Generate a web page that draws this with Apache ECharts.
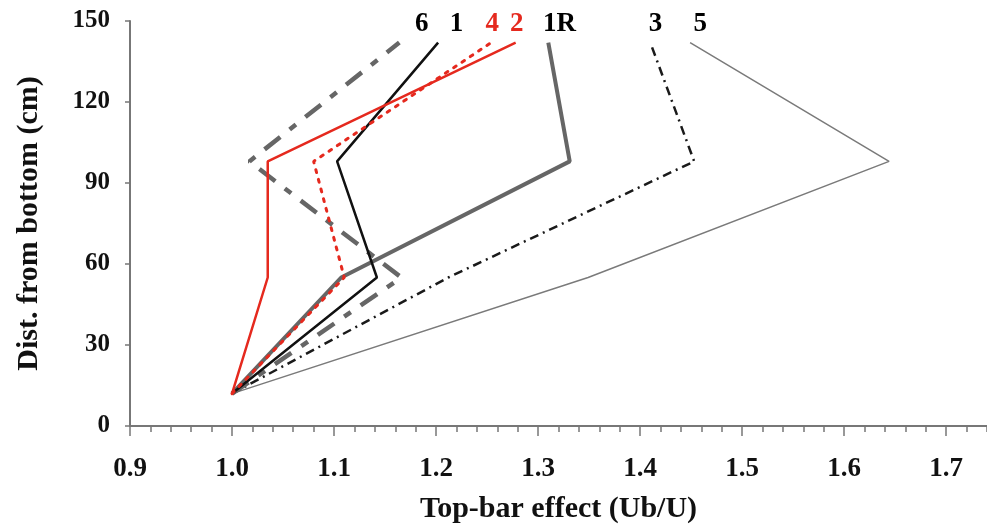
<!DOCTYPE html>
<html>
<head>
<meta charset="utf-8">
<script src="https://cdn.jsdelivr.net/npm/echarts@6/dist/echarts.min.js"></script>
<style>
  html, body { margin: 0; padding: 0; background: #fff; }
  #chart { width: 987px; height: 529px; }
</style>
</head>
<body>
<div id="chart"></div>
<script>
// heights (cm) where each profile is measured
const heights = [12, 55, 98, 142]

// top-bar effect (Ub/U) for each run, bottom to top
const run6 = [1.0, 1.166, 1.017, 1.164]
const run1 = [1.0, 1.142, 1.103, 1.202]
const run2 = [1.0, 1.035, 1.035, 1.278]
const run4 = [1.0, 1.110, 1.080, 1.254]
const run1R = [1.0, 1.107, 1.331, 1.310]
const run3 = [1.0, 1.212, 1.453, 1.410]
const run5 = [1.0, 1.349, 1.644, 1.449]

// run labels printed above the curves
const labelNames = ['6', '1', '4', '2', '1R', '3', '5']
const labelX = [1.186, 1.220, 1.255, 1.279, 1.321, 1.415, 1.459]
const labelY = 149

const xTicks = [0.9, 1.0, 1.1, 1.2, 1.3, 1.4, 1.5, 1.6, 1.7]
const yTicks = [0, 30, 60, 90, 120, 150]

const serif = "'Liberation Serif', 'DejaVu Serif', serif"
const red = '#e5291e'

const pairs = xs => xs.map((x, i) => [x, heights[i]])

const lineSeries = (name, xs, style) => ({
  name,
  type: 'line',
  data: pairs(xs),
  symbol: 'none',
  xAxisIndex: 0,
  yAxisIndex: 0,
  lineStyle: style,
  z: 3
})

const chart = echarts.init(document.getElementById('chart'))

const option = {
  animation: false,
  backgroundColor: '#fff',
  grid: { left: 130, width: 865, top: 21, bottom: 103 },
  xAxis: [
    {
      type: 'value',
      min: 0.9,
      max: 1.74,
      interval: 0.1,
      name: 'Top-bar effect (Ub/U)',
      nameLocation: 'middle',
      nameGap: 68,
      nameTextStyle: { fontFamily: serif, fontWeight: 'bold', fontSize: 30, color: '#111' },
      axisLine: { show: true, onZero: false, lineStyle: { color: '#777', width: 2 } },
      axisTick: { show: true, inside: false, length: 10, customValues: xTicks, lineStyle: { color: '#777', width: 1.5 } },
      axisLabel: {
        customValues: xTicks,
        margin: 30,
        fontFamily: serif,
        fontWeight: 'bold',
        fontSize: 27,
        color: '#111',
        formatter: v => v.toFixed(1)
      },
      splitLine: { show: false }
    },
    {
      type: 'value',
      min: 0.9,
      max: 1.74,
      interval: 0.02,
      axisLine: { show: false },
      axisTick: { show: true, inside: true, length: 6, lineStyle: { color: '#777', width: 1.5 } },
      axisLabel: { show: false },
      splitLine: { show: false }
    }
  ],
  yAxis: {
    type: 'value',
    min: 0,
    max: 150,
    interval: 30,
    name: 'Dist. from bottom (cm)',
    nameLocation: 'middle',
    nameGap: 86,
    nameTextStyle: { fontFamily: serif, fontWeight: 'bold', fontSize: 30, color: '#111' },
    axisLine: { show: true, lineStyle: { color: '#777', width: 2 } },
    axisTick: { show: true, length: 5, lineStyle: { color: '#777', width: 1.5 } },
    axisLabel: {
      customValues: yTicks,
      margin: 20,
      fontFamily: serif,
      fontWeight: 'bold',
      fontSize: 25,
      color: '#111'
    },
    splitLine: { show: false }
  },
  series: [
    lineSeries('5', run5, { color: '#7a7a7a', width: 1.5 }),
    lineSeries('3', run3, { color: '#1a1a1a', width: 2.5, type: [9, 5, 2, 5] }),
    lineSeries('1R', run1R, { color: '#666', width: 4 }),
    lineSeries('6', run6, { color: '#666', width: 4.5, type: [20, 12, 8, 12] }),
    lineSeries('1', run1, { color: '#111', width: 2.5 }),
    lineSeries('4', run4, { color: red, width: 3, type: [3, 7], cap: 'round' }),
    lineSeries('2', run2, { color: red, width: 2.5 }),
    {
      type: 'scatter',
      symbolSize: 0,
      itemStyle: { opacity: 1 },
      data: labelNames.map((n, i) => ({
        value: [labelX[i], labelY],
        name: n,
        label: { color: n === '4' || n === '2' ? red : '#000' }
      })),
      label: {
        show: true,
        position: 'inside',
        formatter: p => p.name,
        fontFamily: serif,
        fontWeight: 'bold',
        fontSize: 27,
        opacity: 1
      },
      silent: true,
      z: 5
    }
  ]
}

chart.setOption(option)
</script>
</body>
</html>
